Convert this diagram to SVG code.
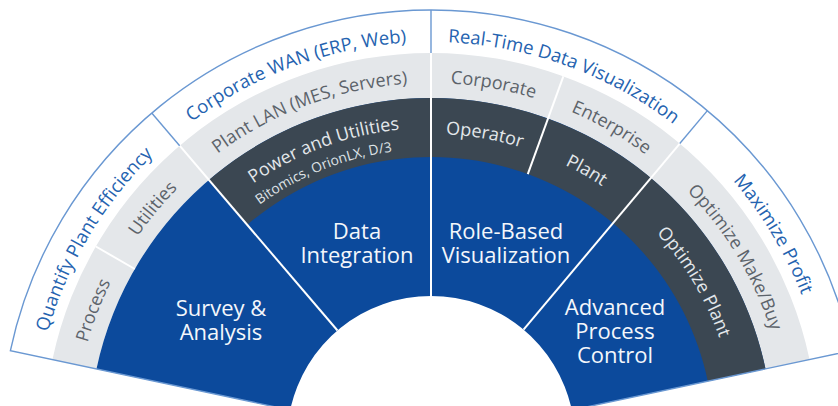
<svg xmlns="http://www.w3.org/2000/svg" width="838" height="406" viewBox="0 0 838 406">
<style>
.blue{fill:#0c4a9c}
.dark{fill:#3b4752}
.light{fill:#e4e7ea}
.wband{fill:#ffffff}
.sepw{stroke:#ffffff;stroke-width:2;fill:none}
.sepb{stroke:#6a98d2;stroke-width:1.4;fill:none}
.t-in{font-family:"Open Sans","Liberation Sans",sans-serif;font-size:22px;fill:#f4f7fb;text-anchor:middle}
.t-dk{font-family:"Open Sans","Liberation Sans",sans-serif;font-size:18px;fill:#e3e7eb;text-anchor:middle}
.t-sm{font-family:"Open Sans","Liberation Sans",sans-serif;font-size:13.8px;fill:#dfe3e7;text-anchor:middle}
.t-lg{font-family:"Open Sans","Liberation Sans",sans-serif;font-size:18px;fill:#5c636a;text-anchor:middle}
.t-wb{font-family:"Open Sans","Liberation Sans",sans-serif;font-size:18.5px;fill:#2563b0;text-anchor:middle}
</style>
<defs>
<path id="pw1" d="M41.70,357.25 A398,398 0 0 1 172.52,137.36"/>
<path id="pw2" d="M172.52,137.36 A398,398 0 0 1 431,42"/>
<path id="pw3" d="M431,42 A398,398 0 0 1 686.83,135.12"/>
<path id="pw4" d="M686.83,135.12 A398,398 0 0 1 820.30,357.25"/>
<path id="pl1" d="M81.80,365.78 A357,357 0 0 1 121.83,261.5"/>
<path id="pl2" d="M121.83,261.5 A357,357 0 0 1 199.15,168.53"/>
<path id="pl3" d="M199.15,168.53 A357,357 0 0 1 431,83"/>
<path id="pl4" d="M431,83 A357,357 0 0 1 553.10,104.53"/>
<path id="pl5" d="M553.10,104.53 A357,357 0 0 1 660.48,166.52"/>
<path id="pl6" d="M660.48,166.52 A357,357 0 0 1 780.20,365.78"/>
<path id="pd1" d="M228.37,202.75 A312,312 0 0 1 431,128"/>
<path id="pd2" d="M242.01,218.72 A291,291 0 0 1 431,149"/>
<path id="pd3" d="M431,134 A306,306 0 0 1 535.66,152.45"/>
<path id="pd4" d="M535.66,152.45 A306,306 0 0 1 627.69,205.59"/>
<path id="pd5" d="M627.69,205.59 A306,306 0 0 1 730.31,376.38"/>
</defs>

<g id="bands">
<path class="wband" d="M10.40,350.60 A430,430 0 0 1 851.60,350.60 L809.54,359.54 A387,387 0 0 0 52.46,359.54 Z"/>
<path class="light" d="M52.46,359.54 A387,387 0 0 1 809.54,359.54 L765.53,368.89 A342,342 0 0 0 96.47,368.89 Z"/>
<path class="blue" d="M96.47,368.89 A342,342 0 0 1 765.53,368.89 L571.85,410.06 A144,144 0 0 0 290.15,410.06 Z"/>
<path class="dark" d="M208.89,179.94 A342,342 0 0 1 765.53,368.89 L707.82,381.16 A283,283 0 0 0 247.21,224.80 Z"/>
</g>

<g id="connectors">
<path class="sepw" d="M337.48,330.50 L179.66,145.72"/>
<path class="sepw" d="M431,296 L431,53"/>
<path class="sepw" d="M523.56,329.69 L679.76,143.54"/>
<path class="sepw" d="M134.82,269 L95.85,246.5"/>
<path class="sepw" d="M527.79,174.07 L563.36,76.34"/>
<path class="sepb" d="M179.66,145.72 L151.74,113.02"/>
<path class="sepb" d="M431,53 L431,10"/>
<path class="sepb" d="M679.76,143.54 L707.40,110.60"/>
<path class="sepb" d="M290.15,410.06 L10.40,350.60 A430,430 0 0 1 851.60,350.60 L571.85,410.06"/>
</g>

<g id="survey-analysis">
<text class="t-in" x="221" y="316">Survey &amp;</text>
<text class="t-in" x="221" y="340">Analysis</text>
<text class="t-lg"><textPath href="#pl1" startOffset="50%">Process</textPath></text>
<text class="t-lg"><textPath href="#pl2" startOffset="50%">Utilities</textPath></text>
<text class="t-wb"><textPath href="#pw1" startOffset="50%">Quantify Plant Efficiency</textPath></text>
</g>

<g id="data-integration">
<text class="t-in" x="357" y="239">Data</text>
<text class="t-in" x="357" y="263">Integration</text>
<text class="t-dk"><textPath href="#pd1" startOffset="50%">Power and Utilities</textPath></text>
<text class="t-sm"><textPath href="#pd2" startOffset="46%">Bitomics, OrionLX,  D/3</textPath></text>
<text class="t-lg"><textPath href="#pl3" startOffset="50%">Plant LAN (MES, Servers)</textPath></text>
<text class="t-wb"><textPath href="#pw2" startOffset="50%">Corporate WAN (ERP, Web)</textPath></text>
</g>

<g id="role-based-visualization">
<text class="t-in" x="506" y="239">Role-Based</text>
<text class="t-in" x="506" y="263">Visualization</text>
<text class="t-dk"><textPath href="#pd3" startOffset="50%">Operator</textPath></text>
<text class="t-dk"><textPath href="#pd4" startOffset="50%">Plant</textPath></text>
<text class="t-lg"><textPath href="#pl4" startOffset="50%">Corporate</textPath></text>
<text class="t-lg"><textPath href="#pl5" startOffset="50%">Enterprise</textPath></text>
<text class="t-wb"><textPath href="#pw3" startOffset="50%">Real-Time Data Visualization</textPath></text>
</g>

<g id="advanced-process-control">
<text class="t-in" x="615" y="315">Advanced</text>
<text class="t-in" x="615" y="339">Process</text>
<text class="t-in" x="615" y="363">Control</text>
<text class="t-dk"><textPath href="#pd5" startOffset="50%">Optimize Plant</textPath></text>
<text class="t-lg"><textPath href="#pl6" startOffset="50%">Optimize Make/Buy</textPath></text>
<text class="t-wb"><textPath href="#pw4" startOffset="50%">Maximize Profit</textPath></text>
</g>
</svg>
